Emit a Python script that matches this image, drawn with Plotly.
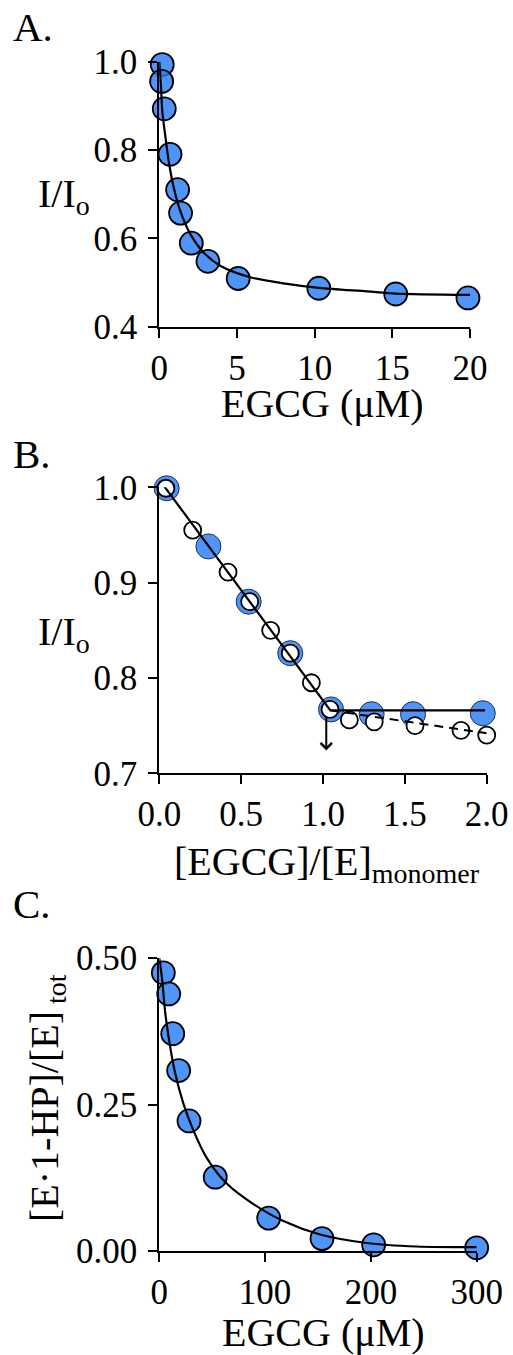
import plotly.graph_objects as go

W, H = 513, 1355
FONT = "Liberation Serif"
BLUE = "rgba(40,125,245,0.82)"

# ---- Panel A: quenching vs EGCG concentration ----
a_egcg = [0.19, 0.15, 0.32, 0.69, 1.18, 1.37, 2.06, 3.13, 5.08, 10.27, 15.22, 19.87]
a_ratio = [0.993, 0.955, 0.893, 0.790, 0.710, 0.657, 0.589, 0.548, 0.509, 0.487, 0.474, 0.465]
a_fit_x = [0, 0.11, 0.19, 0.37, 0.60, 0.92, 1.35, 1.99, 2.85, 3.92, 5.85, 7.99, 10.27, 13.36, 15.22, 20.0]
a_fit_y = [1.0, 0.942, 0.889, 0.836, 0.776, 0.716, 0.662, 0.610, 0.568, 0.538, 0.512, 0.498, 0.488, 0.480, 0.475, 0.472]

# ---- Panel B: stoichiometric titration ----
b_blue_x = [0.045, 0.30, 0.546, 0.80, 1.049, 1.297, 1.55, 1.976]
b_blue_y = [0.999, 0.938, 0.880, 0.826, 0.767, 0.762, 0.762, 0.763]
b_open_x = [0.04, 0.204, 0.42, 0.552, 0.68, 0.80, 0.929, 1.043, 1.161, 1.313, 1.562, 1.843, 2.0]
b_open_y = [0.999, 0.955, 0.911, 0.880, 0.850, 0.826, 0.795, 0.767, 0.756, 0.754, 0.750, 0.745, 0.740]
b_solid_x = [0.0, 1.045, 1.99]
b_solid_y = [1.008, 0.766, 0.766]
b_dash_x = [1.045, 2.0]
b_dash_y = [0.766, 0.742]
b_arrow_x = 1.02
b_arrow_y = [0.761, 0.724]

# ---- Panel C: bound fraction vs EGCG ----
c_egcg = [3.8, 8.9, 12.7, 18.3, 28.1, 52.9, 103.4, 153.8, 202.6, 300.0]
c_frac = [0.475, 0.439, 0.371, 0.308, 0.222, 0.126, 0.056, 0.021, 0.0104, 0.0053]
c_fit_x = [0, 2.8, 5.4, 9.5, 14.8, 22.7, 32.2, 44.8, 63.7, 88.9, 117.3, 152, 196, 243.2, 300.0]
c_fit_y = [0.50, 0.462, 0.410, 0.357, 0.305, 0.252, 0.206, 0.159, 0.115, 0.080, 0.051, 0.028, 0.0135, 0.0075, 0.0063]


def px(p):
    return p / W


def py(p):
    return 1 - p / H


fig = go.Figure()

blue_marker = dict(size=23, color=BLUE, line=dict(color="black", width=1.8))

# Panel A
fig.add_trace(go.Scatter(x=a_egcg, y=a_ratio, mode="markers", marker=blue_marker,
                         cliponaxis=False, xaxis="x", yaxis="y"))
fig.add_trace(go.Scatter(x=a_fit_x, y=a_fit_y, mode="lines",
                         line=dict(color="black", width=2.2, shape="spline", smoothing=0.8),
                         xaxis="x", yaxis="y"))

# Panel B
fig.add_trace(go.Scatter(x=b_blue_x, y=b_blue_y, mode="markers",
                         marker=dict(size=25, color=BLUE, line=dict(color="#1b2f5a", width=1)),
                         cliponaxis=False, xaxis="x2", yaxis="y2"))
fig.add_trace(go.Scatter(x=b_open_x, y=b_open_y, mode="markers",
                         marker=dict(size=17, color="white", line=dict(color="black", width=1.8)),
                         cliponaxis=False, xaxis="x2", yaxis="y2"))
fig.add_trace(go.Scatter(x=b_solid_x, y=b_solid_y, mode="lines",
                         line=dict(color="black", width=2.2), xaxis="x2", yaxis="y2"))
fig.add_trace(go.Scatter(x=b_dash_x, y=b_dash_y, mode="lines",
                         line=dict(color="black", width=2, dash="9px,6px"), xaxis="x2", yaxis="y2"))

# Panel C
fig.add_trace(go.Scatter(x=c_egcg, y=c_frac, mode="markers", marker=blue_marker,
                         cliponaxis=False, xaxis="x3", yaxis="y3"))
fig.add_trace(go.Scatter(x=c_fit_x, y=c_fit_y, mode="lines",
                         line=dict(color="black", width=2.2, shape="spline", smoothing=0.8),
                         xaxis="x3", yaxis="y3"))

tick_font = dict(family=FONT, size=35, color="black")
axis_common = dict(showline=True, linecolor="black", linewidth=2.3, ticks="outside",
                   ticklen=9, tickwidth=2.3, tickcolor="black", showgrid=False,
                   zeroline=False, tickfont=tick_font,
                   automargin=False, fixedrange=True)
x_common = dict(axis_common, ticklabelstandoff=0)
y_common = dict(axis_common, ticklabelstandoff=4)

xl, xr_a, xr_b, xr_c = 159.3, 470.0, 486.7, 476.7

fig.update_layout(
    width=W, height=H,
    margin=dict(l=0, r=0, t=0, b=0, pad=0),
    paper_bgcolor="white", plot_bgcolor="white",
    showlegend=False,
    xaxis=dict(domain=[px(xl), px(xr_a)], anchor="y", range=[0, 20],
               tickvals=[0, 5, 10, 15, 20], **x_common),
    yaxis=dict(domain=[py(326.7), py(61.5)], anchor="x", range=[0.4, 1.0],
               tickvals=[0.4, 0.6, 0.8, 1.0], tickformat=".1f", **y_common),
    xaxis2=dict(domain=[px(xl), px(xr_b)], anchor="y2", range=[0, 2.0],
                tickvals=[0, 0.5, 1.0, 1.5, 2.0], tickformat=".1f", **x_common),
    yaxis2=dict(domain=[py(773.3), py(487.3)], anchor="x2", range=[0.7, 1.0],
                tickvals=[0.7, 0.8, 0.9, 1.0], tickformat=".1f", **y_common),
    xaxis3=dict(domain=[px(xl), px(xr_c)], anchor="y3", range=[0, 300],
                tickvals=[0, 100, 200, 300], **x_common),
    yaxis3=dict(domain=[py(1250.9), py(958.2)], anchor="x3", range=[0, 0.5],
                tickvals=[0, 0.25, 0.5], tickformat=".2f", **y_common),
)

title_font = dict(family=FONT, size=40, color="black")
letter_font = dict(family=FONT, size=41, color="black")


def note(text, x, y, xanchor="center", yanchor="middle", font=title_font, angle=0):
    fig.add_annotation(text=text, x=px(x), y=py(y), xref="paper", yref="paper",
                       xanchor=xanchor, yanchor=yanchor, showarrow=False,
                       font=font, textangle=angle)


note("A.", 11, 27, xanchor="left", font=letter_font)
note("B.", 11, 454, xanchor="left", font=letter_font)
note("C.", 11, 904, xanchor="left", font=letter_font)

note("I/I<sub>o</sub>", 36, 196, xanchor="left")
note("I/I<sub>o</sub>", 36, 634, xanchor="left")
note("[E·1-HP]/[E]<sub> tot</sub>", 47, 1098, angle=-90)

note("EGCG (μM)", 322, 404)
note("[EGCG]/[E]<sub>monomer</sub>", 327, 864)
note("EGCG (μM)", 323, 1332)

# Arrow marking the break point in panel B
fig.add_annotation(x=b_arrow_x, y=b_arrow_y[1], ax=b_arrow_x, ay=b_arrow_y[0],
                   xref="x2", yref="y2", axref="x2", ayref="y2",
                   showarrow=True, arrowhead=4, arrowsize=1.1, arrowwidth=2,
                   arrowcolor="black", text="")

fig.write_html("out.html")
